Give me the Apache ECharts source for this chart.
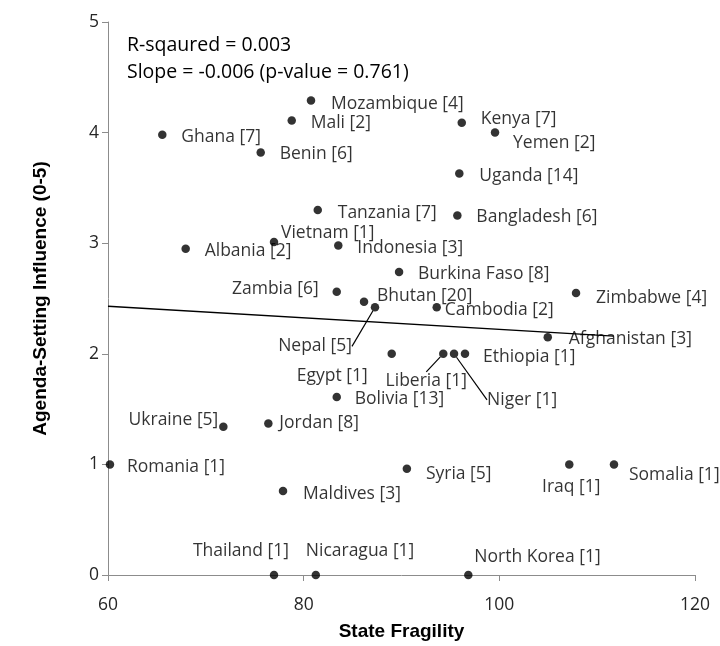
<!DOCTYPE html>
<html><head><meta charset="utf-8">
<script src="https://cdn.jsdelivr.net/npm/echarts@6/dist/echarts.min.js"></script>
<style>html,body{margin:0;padding:0;background:#fff}#c{width:720px;height:646px}</style>
</head><body><div id="c"></div>
<script>
// ---- data ----
const countries = ['Mozambique','Mali','Ghana','Benin','Kenya','Yemen','Uganda','Bangladesh','Tanzania','Vietnam','Albania','Indonesia','Burkina Faso','Zambia','Bhutan','Nepal','Cambodia','Zimbabwe','Afghanistan','Egypt','Liberia','Niger','Ethiopia','Bolivia','Ukraine','Jordan','Romania','Syria','Maldives','Iraq','Somalia','Thailand','Nicaragua','North Korea'];
const counts = [4,2,7,6,7,2,14,6,7,1,2,3,8,6,20,5,2,4,3,1,1,1,1,13,5,8,1,5,3,1,1,1,1,1];
const fragility = [80.75,78.78,65.55,75.61,96.16,99.56,95.91,95.71,81.44,76.97,67.94,83.54,89.75,83.38,86.17,87.29,93.6,107.84,104.95,89.0,94.27,95.37,96.49,83.38,71.79,76.39,60.2,90.55,77.89,107.15,111.72,76.97,81.24,96.83];
const influence = [4.29,4.11,3.98,3.82,4.09,4.0,3.63,3.25,3.30,3.01,2.95,2.98,2.74,2.56,2.47,2.42,2.42,2.55,2.15,2.0,2.0,2.0,2.0,1.61,1.34,1.37,1.0,0.96,0.76,1.0,1.0,0,0,0];
const trendX = [60, 111.7];
const trendY = [2.43, 2.16];
const statsLines = ['R-sqaured = 0.003', 'Slope = -0.006 (p-value = 0.761)'];
const xTitle = 'State Fragility';
const yTitle = 'Agenda-Setting Influence (0-5)';

// ---- label layout (styling only): offset from dot centre, alignment, leader line ----
const labelPlace = {
  'Mozambique':[20,3,'left'], 'Mali':[19,3,'left'], 'Ghana':[19,2,'left'], 'Benin':[19,2,'left'],
  'Kenya':[19,-4,'left'], 'Yemen':[18,10,'left'], 'Uganda':[20,2,'left'], 'Bangladesh':[19,1,'left'],
  'Tanzania':[20,3,'left'], 'Vietnam':[7,-9,'left'], 'Albania':[19,2,'left'], 'Indonesia':[19,3,'left'],
  'Burkina Faso':[19,2,'left'], 'Zambia':[-18,-3,'right'], 'Bhutan':[13,-6,'left'], 'Nepal':[-23,39,'right',true],
  'Cambodia':[8,3,'left'], 'Zimbabwe':[20,5,'left'], 'Afghanistan':[21,2,'left'], 'Egypt':[-24,22,'right'],
  'Liberia':[-17,27,'center',true], 'Niger':[33,46,'left',true], 'Ethiopia':[18,3,'left'], 'Bolivia':[18,2,'left'],
  'Ukraine':[-5,-7,'right'], 'Jordan':[11,0,'left'], 'Romania':[17,3,'left'], 'Syria':[19,5,'left'],
  'Maldives':[20,3,'left'], 'Iraq':[2,23,'center'], 'Somalia':[15,11,'left'], 'Thailand':[15,-24,'right'],
  'Nicaragua':[-10,-24,'left'], 'North Korea':[6,-18,'left']
};

const FONT = "'Open Sans', sans-serif";
const points = countries.map((c, i) => {
  const p = labelPlace[c];
  const item = { value: [fragility[i], influence[i]], name: c };
  if (p[3]) item.labelLine = { show: true };
  return item;
});

const chart = echarts.init(document.getElementById('c'), null, { renderer: 'canvas' });
chart.setOption({
  animation: false,
  backgroundColor: '#fff',
  grid: { left: 108, right: 25, top: 22, bottom: 70 },
  xAxis: {
    type: 'value', min: 60, max: 120, interval: 20,
    name: xTitle, nameLocation: 'middle', nameGap: 47,
    nameTextStyle: { fontFamily: "'Liberation Sans', Arial, sans-serif", fontWeight: 'bold', fontSize: 19, color: '#000' },
    axisLine: { show: true, onZero: false, lineStyle: { color: '#8c8c8c', width: 1 } },
    axisTick: { show: true, inside: false, length: 6, lineStyle: { color: '#8c8c8c' } },
    splitLine: { show: false },
    axisLabel: { fontFamily: FONT, fontSize: 17.5, color: '#262626', margin: 21 }
  },
  yAxis: {
    type: 'value', min: 0, max: 5, interval: 1,
    name: yTitle, nameLocation: 'middle', nameGap: 58, nameRotate: 90,
    nameTextStyle: { fontFamily: "'Liberation Sans', Arial, sans-serif", fontWeight: 'bold', fontSize: 19, color: '#000' },
    axisLine: { show: true, onZero: false, lineStyle: { color: '#8c8c8c', width: 1 } },
    axisTick: { show: true, inside: false, length: 6, lineStyle: { color: '#8c8c8c' } },
    splitLine: { show: false },
    axisLabel: { fontFamily: FONT, fontSize: 17.5, color: '#262626', margin: 9 }
  },
  graphic: statsLines.map((t, i) => ({
    type: 'text', left: 127, top: 35 + i * 27,
    style: { text: t, fontFamily: FONT, fontSize: 19.5, fill: '#000' }
  })),
  series: [
    {
      type: 'line', data: trendX.map((x, i) => [x, trendY[i]]),
      symbol: 'none', lineStyle: { color: '#000', width: 1.3 }, z: 1, silent: true
    },
    {
      type: 'scatter', data: points, symbol: 'circle', symbolSize: 8.5,
      itemStyle: { color: '#000' }, z: 3,
      label: {
        show: true, fontFamily: FONT, fontSize: 17.5, color: '#000',
        formatter: (p) => p.name + ' [' + counts[p.dataIndex] + ']'
      },
      labelLine: { show: false, lineStyle: { color: '#000', width: 1.2 } },
      labelLayout: (params) => {
        const c = countries[params.dataIndex];
        const p = labelPlace[c];
        const cx = params.rect.x + params.rect.width / 2;
        const cy = params.rect.y + params.rect.height / 2;
        return { x: cx + p[0], y: cy + p[1], align: p[2], verticalAlign: 'middle' };
      }
    }
  ]
});
</script></body></html>
